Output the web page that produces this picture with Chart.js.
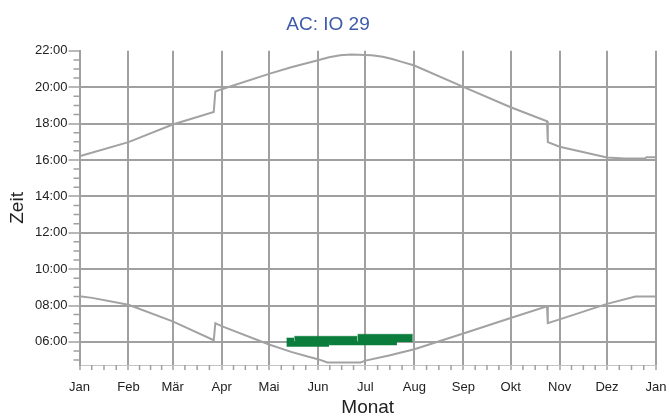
<!DOCTYPE html>
<html>
<head>
<meta charset="utf-8">
<script src="https://cdn.jsdelivr.net/npm/chart.js@4/dist/chart.umd.min.js"></script>
<style>
  html, body { margin: 0; padding: 0; background: #fff; }
</style>
</head>
<body>
<canvas id="myChart" width="669" height="416"></canvas>
<script>
// Axis ticks: month starts (day of year) and their labels, hour ticks
const monthDays = [0, 31, 59, 90, 120, 151, 181, 212, 243, 273, 304, 334, 365];
const monthLabels = ['Jan', 'Feb', 'Mär', 'Apr', 'Mai', 'Jun', 'Jul', 'Aug', 'Sep', 'Okt', 'Nov', 'Dez', 'Jan'];
const hourTicks = [6, 8, 10, 12, 14, 16, 18, 20, 22];

// Upper curve (evening), hours of day
const eveningDays = [0, 31, 59, 85, 86, 90, 120, 134, 151, 158, 165, 172, 185, 192, 198, 203, 212, 243, 273, 296, 296.5, 304, 334, 345, 358, 359, 365];
const eveningHours = [16.2, 16.98, 17.95, 18.64, 19.76, 19.89, 20.73, 21.1, 21.48, 21.65, 21.76, 21.8, 21.76, 21.67, 21.55, 21.42, 21.19, 20.02, 18.9, 18.13, 16.98, 16.73, 16.13, 16.08, 16.08, 16.15, 16.15];

// Lower curve (morning), hours of day
const morningDays = [0, 8, 31, 59, 85, 86, 90, 120, 134, 145, 151, 157, 178, 181, 196, 212, 243, 273, 296, 296.5, 304, 334, 352, 365];
const morningHours = [8.51, 8.42, 8.04, 7.13, 6.09, 7.03, 6.87, 5.86, 5.45, 5.18, 5.05, 4.87, 4.87, 4.97, 5.25, 5.6, 6.46, 7.31, 7.96, 7.03, 7.24, 8.09, 8.49, 8.49];

// Green bands: day range and hour range
const bandStart = [131, 136, 176, 131, 158];
const bandEnd = [136, 176, 211, 158, 201];
const bandLow = [6.0, 6.0, 6.0, 5.73, 5.82];
const bandHigh = [6.22, 6.31, 6.42, 6.0, 6.0];

const gridColor = '#a0a0a0';
const lineColor = '#a2a2a2';
const green = '#0a7d3c';
const fontFamily = '"Liberation Sans", Arial, sans-serif';

function toPoints(xs, ys) {
  return xs.map((d, i) => ({ x: d, y: ys[i] }));
}

function hhmm(v) {
  const h = Math.floor(v);
  const m = Math.round((v - h) * 60);
  return String(h).padStart(2, '0') + ':' + String(m).padStart(2, '0');
}

const datasets = [
  {
    data: toPoints(eveningDays, eveningHours),
    borderColor: lineColor,
    borderWidth: 2,
    pointRadius: 0,
    tension: 0,
    fill: false
  },
  {
    data: toPoints(morningDays, morningHours),
    borderColor: lineColor,
    borderWidth: 2,
    pointRadius: 0,
    tension: 0,
    fill: false
  }
];

// each band: a lower edge line and an upper edge line filled down to it
bandStart.forEach((s, i) => {
  const lowIndex = datasets.length;
  datasets.push({
    data: [{ x: s, y: bandLow[i] }, { x: bandEnd[i], y: bandLow[i] }],
    borderColor: 'rgba(0,0,0,0)',
    borderWidth: 1,
    pointRadius: 0,
    fill: false
  });
  datasets.push({
    data: [{ x: s, y: bandHigh[i] }, { x: bandEnd[i], y: bandHigh[i] }],
    borderColor: green,
    borderWidth: 0.5,
    backgroundColor: green,
    pointRadius: 0,
    fill: { target: lowIndex }
  });
});

// Short unlabelled ticks: half hours on the y axis, quarter months on the x axis
const minorTicks = {
  id: 'minorTicks',
  afterDraw(chart) {
    const { ctx, scales: { x, y } } = chart;
    ctx.save();
    ctx.strokeStyle = gridColor;
    ctx.lineWidth = 1.5;
    ctx.beginPath();
    for (let h = Math.ceil(y.min * 2) / 2; h < y.max; h += 0.5) {
      if (h % 2 === 0) continue;
      const py = y.getPixelForValue(h);
      ctx.moveTo(x.left - 6, py);
      ctx.lineTo(x.left, py);
    }
    for (let m = 0; m < monthDays.length - 1; m++) {
      const len = monthDays[m + 1] - monthDays[m];
      for (let k = 1; k < 4; k++) {
        const px = x.getPixelForValue(monthDays[m] + len * k / 4);
        ctx.moveTo(px, y.bottom);
        ctx.lineTo(px, y.bottom + 5);
      }
    }
    ctx.stroke();
    ctx.restore();
  }
};

const config = {
  type: 'line',
  data: { datasets: datasets },
  options: {
    responsive: false,
    animation: false,
    devicePixelRatio: 1,
    layout: { padding: { left: 0, right: 13, top: 0, bottom: 0 } },
    plugins: {
      legend: { display: false },
      tooltip: { enabled: false },
      title: {
        display: true,
        text: 'AC: IO 29',
        color: '#3f5baa',
        font: { family: fontFamily, size: 19, weight: 'normal', lineHeight: 1.2 },
        padding: { top: 13, bottom: 15 }
      }
    },
    scales: {
      x: {
        type: 'linear',
        min: 0,
        max: 365,
        z: 1,
        afterBuildTicks: (scale) => { scale.ticks = monthDays.map(v => ({ value: v })); },
        afterFit: (scale) => {
          scale.height = 51;
          scale.paddingLeft = 0;
          scale.paddingRight = 0;
        },
        ticks: {
          autoSkip: false,
          maxRotation: 0,
          padding: 10,
          color: '#222',
          font: { family: fontFamily, size: 13 },
          callback: (v, i) => monthLabels[i]
        },
        grid: { color: gridColor, lineWidth: 2, tickLength: 5, tickColor: gridColor, tickWidth: 1.5 },
        border: { display: true, color: '#c4c4c4', width: 1 },
        title: {
          display: true,
          text: 'Monat',
          color: '#222',
          font: { family: fontFamily, size: 19, lineHeight: 1 },
          padding: { top: 0, bottom: -1 }
        }
      },
      y: {
        type: 'linear',
        min: 4.73,
        max: 22,
        z: 1,
        afterBuildTicks: (scale) => { scale.ticks = hourTicks.map(v => ({ value: v })); },
        afterFit: (scale) => {
          scale.width = 79.5;
          scale.paddingTop = 0;
          scale.paddingBottom = 0;
        },
        ticks: {
          autoSkip: false,
          padding: 1,
          color: '#222',
          font: { family: fontFamily, size: 13 },
          callback: (v) => hhmm(v)
        },
        grid: {
          color: (c) => (c.tick && c.tick.value === 22 ? 'rgba(0,0,0,0)' : gridColor),
          lineWidth: 2,
          tickLength: 11,
          tickColor: gridColor,
          tickWidth: 1.5
        },
        border: { display: true, color: gridColor, width: 2 },
        title: {
          display: true,
          text: 'Zeit',
          color: '#222',
          font: { family: fontFamily, size: 19, lineHeight: 1 },
          padding: { top: 8, bottom: 0 }
        }
      }
    }
  },
  plugins: [minorTicks]
};

new Chart(document.getElementById('myChart'), config);
</script>
</body>
</html>
